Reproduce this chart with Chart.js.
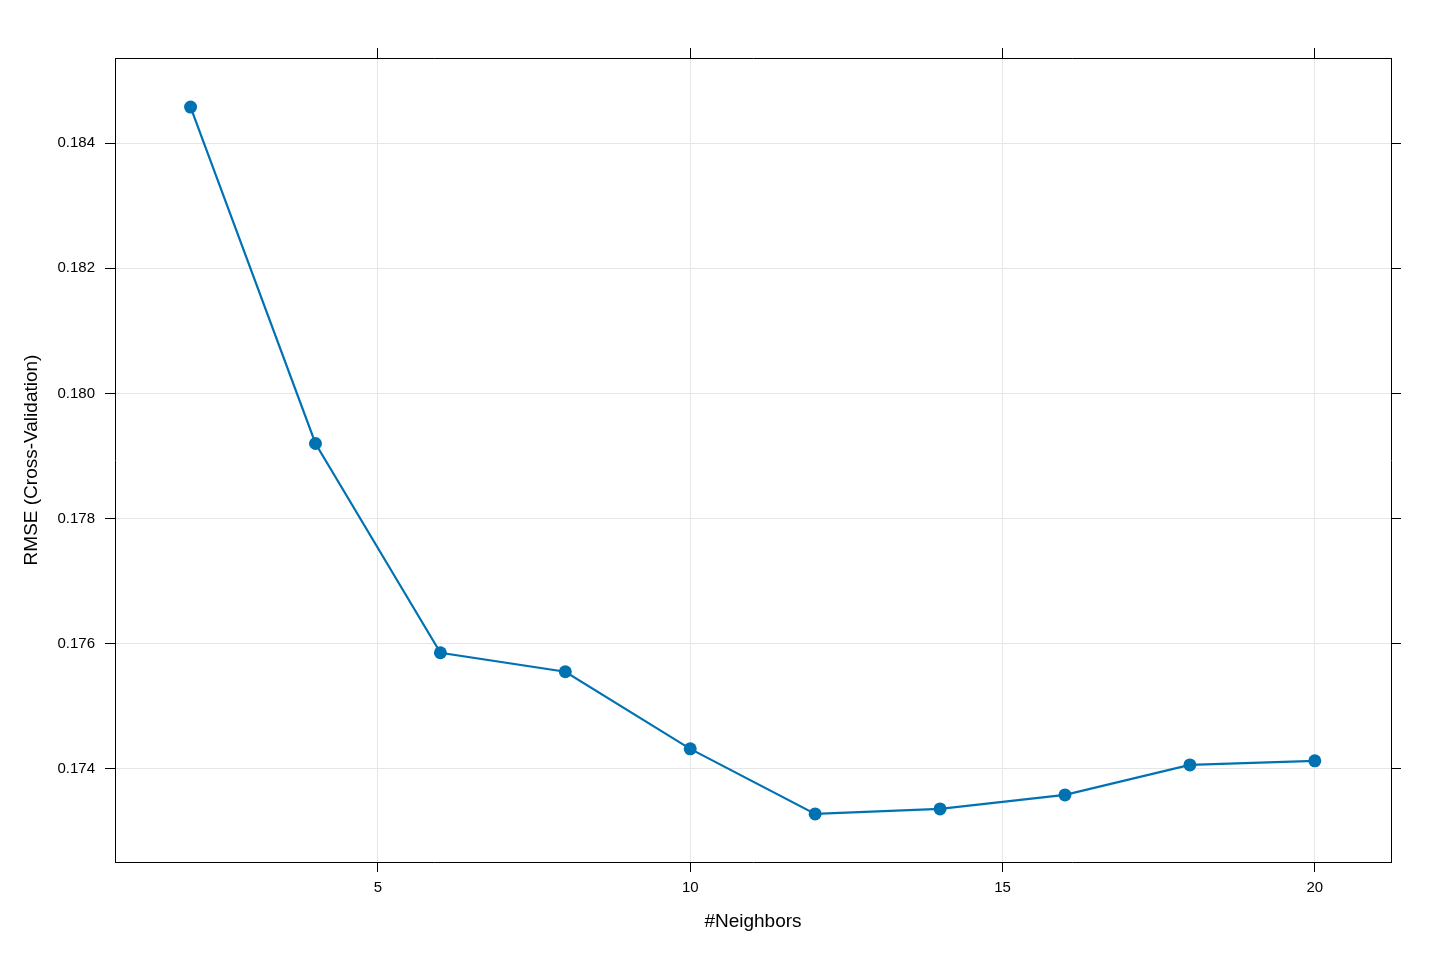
<!DOCTYPE html>
<html>
<head>
<meta charset="utf-8">
<title>RMSE vs #Neighbors</title>
<script src="https://cdn.jsdelivr.net/npm/chart.js@4.4.1/dist/chart.umd.min.js"></script>
<style>
  html, body { margin: 0; padding: 0; background: #ffffff; }
  #chart { display: block; }
</style>
</head>
<body>
<canvas id="chart" width="1440" height="960"></canvas>
<script>
// values
const neighbors = [2, 4, 6, 8, 10, 12, 14, 16, 18, 20];
const rmse = [0.184576, 0.1792, 0.175856, 0.175552, 0.17432, 0.17328, 0.17336, 0.173584, 0.174064, 0.174128];
const xTicks = [5, 10, 15, 20];
const yTicks = [0.174, 0.176, 0.178, 0.180, 0.182, 0.184];

const xMin = 0.79, xMax = 21.22;
const yMin = 0.172512, yMax = 0.18536;

const lineColor = '#0072B2';
const gridColor = '#e6e6e6';
const fontFamily = '"Liberation Sans", Arial, sans-serif';

function setTicks(list) {
  return scale => { scale.ticks = list.map(v => ({ value: v })); };
}

const ctx = document.getElementById('chart').getContext('2d');
new Chart(ctx, {
  type: 'line',
  data: {
    datasets: [{
      label: 'RMSE',
      data: neighbors.map((k, i) => ({ x: k, y: rmse[i] })),
      borderColor: lineColor,
      backgroundColor: lineColor,
      borderWidth: 2.2,
      pointRadius: 6.5,
      pointBorderWidth: 0,
      pointBackgroundColor: lineColor,
      tension: 0
    }]
  },
  options: {
    responsive: false,
    animation: false,
    layout: { padding: 0 },
    plugins: { legend: { display: false }, tooltip: { enabled: false } },
    scales: {
      x: {
        type: 'linear', position: 'bottom', min: xMin, max: xMax,
        afterBuildTicks: setTicks(xTicks),
        afterFit: s => { s.height = 98; },
        grid: { color: gridColor, tickColor: '#000', tickLength: 10, lineWidth: 1 },
        border: { display: true, color: '#000', width: 1 },
        ticks: { color: '#000', font: { family: fontFamily, size: 15 }, padding: 7, maxRotation: 0,
                 callback: v => String(v) },
        title: { display: true, text: '#Neighbors', color: '#000',
                 font: { family: fontFamily, size: 19 }, padding: { top: 27, bottom: 27 } }
      },
      x2: {
        type: 'linear', position: 'top', min: xMin, max: xMax,
        afterBuildTicks: setTicks(xTicks),
        afterFit: s => { s.height = 58; },
        grid: { drawOnChartArea: false, tickColor: '#000', tickLength: 10 },
        border: { display: true, color: '#000', width: 1 },
        ticks: { display: false }
      },
      y: {
        type: 'linear', position: 'left', min: yMin, max: yMax,
        afterBuildTicks: setTicks(yTicks),
        afterFit: s => { s.width = 115; },
        grid: { color: gridColor, tickColor: '#000', tickLength: 10, lineWidth: 1 },
        border: { display: true, color: '#000', width: 1 },
        ticks: { color: '#000', font: { family: fontFamily, size: 15 }, padding: 10,
                 callback: v => v.toFixed(3) },
        title: { display: true, text: 'RMSE (Cross-Validation)', color: '#000',
                 font: { family: fontFamily, size: 19 }, padding: { top: 20, bottom: 20 } }
      },
      y2: {
        type: 'linear', position: 'right', min: yMin, max: yMax,
        afterBuildTicks: setTicks(yTicks),
        afterFit: s => { s.width = 49; },
        grid: { drawOnChartArea: false, tickColor: '#000', tickLength: 10 },
        border: { display: true, color: '#000', width: 1 },
        ticks: { display: false }
      }
    }
  }
});
</script>
</body>
</html>
